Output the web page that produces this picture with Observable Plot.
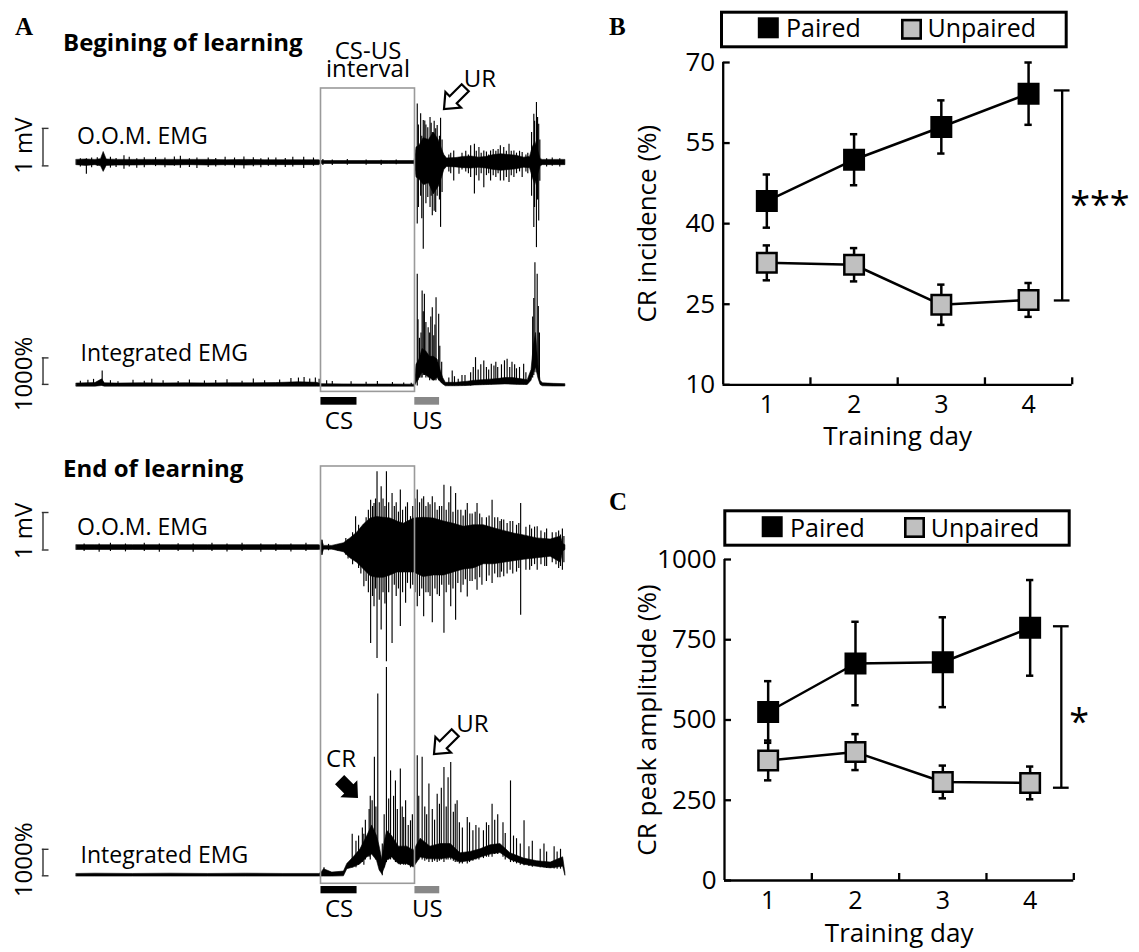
<!DOCTYPE html>
<html><head><meta charset="utf-8">
<script src="https://cdn.jsdelivr.net/npm/d3@7"></script>
<script src="https://cdn.jsdelivr.net/npm/@observablehq/plot@0.6"></script>
<style>
html,body{margin:0;padding:0;background:#fff;}
#root{position:relative;width:1139px;height:952px;overflow:hidden;font-family:"Open Sans",sans-serif;color:#000;}
#root .layer{position:absolute;}
#root svg{overflow:visible;max-width:none;}
g[aria-label="stars"] text{letter-spacing:3px;}
</style></head><body><div id="root"></div><script>
// ================= DATA =================
// Panels B & C
const days = [1, 2, 3, 4];
const groups = ["Paired", "Unpaired"];
const incidencePaired = [44.2, 51.9, 58.0, 64.2];
const incidencePairedSem = [4.95, 4.75, 4.95, 5.8];
const incidenceUnpaired = [32.7, 32.35, 24.9, 25.8];
const incidenceUnpairedSem = [3.25, 3.1, 3.75, 3.15];
const amplitudePaired = [525, 676, 680, 787];
const amplitudePairedSem = [96, 130, 140, 149];
const amplitudeUnpaired = [374, 400, 307, 304];
const amplitudeUnpairedSem = [62, 56, 51, 51];
const incidenceTicks = [10, 25, 40, 55, 70];
const amplitudeTicks = [0, 250, 500, 750, 1000];
const incidenceSig = [25.7, 64.8];
const amplitudeSig = [289, 792];
const sigLabels = ["***", "*"];

// Panel A : stimulus timing (ms from CS onset)
const stimNames = ["CS", "US"];
const stimStart = [0, 250];
const stimEnd = [96, 316];
const intervalMs = [0, 250];
const scaleMv = 1, scalePct = 1000;

// Traces: [time ms, low, high]. O.O.M. EMG in mV, integrated EMG in %.
// Beginning of learning - O.O.M. EMG
const beginOomBand = [[-650,-0.07,0.07],[-625,-0.09,0.08],[-600,-0.07,0.07],[-585,-0.10,0.09],[-578,-0.25,0.28],[-570,-0.09,0.08],[-540,-0.08,0.07],[-500,-0.08,0.07],[-450,-0.07,0.07],[-400,-0.08,0.07],[-350,-0.07,0.07],[-300,-0.08,0.07],[-250,-0.07,0.06],[-200,-0.08,0.07],[-150,-0.07,0.06],[-100,-0.07,0.06],[-50,-0.07,0.06],[-5,-0.07,0.06],[0,-0.04,0.04],[60,-0.04,0.04],[120,-0.04,0.04],[180,-0.04,0.04],[249,-0.04,0.04],[254,-0.4,0.4],[262,-0.45,0.45],[273,-0.6,0.65],[287,-0.55,0.6],[300,-0.85,0.8],[313,-0.65,0.6],[322,-0.4,0.35],[328,-0.2,0.2],[335,-0.12,0.11],[360,-0.13,0.12],[380,-0.15,0.15],[400,-0.16,0.16],[420,-0.14,0.13],[440,-0.16,0.15],[460,-0.2,0.2],[480,-0.22,0.22],[500,-0.2,0.2],[520,-0.18,0.18],[540,-0.14,0.13],[556,-0.15,0.15],[563,-0.4,0.4],[570,-0.6,0.55],[577,-0.35,0.35],[584,-0.1,0.09],[590,-0.07,0.07],[620,-0.07,0.07],[650,-0.07,0.07]];
const beginOomSpikes = [[-640,-0.12,0.10],[-624,-0.31,0.1],[-610,-0.14,0.12],[-595,-0.1,0.13],[-560,-0.15,0.14],[-545,-0.13,0.11],[-524,-0.18,0.18],[-510,-0.12,0.14],[-490,-0.15,0.1],[-470,-0.14,0.13],[-440,-0.11,0.13],[-415,-0.14,0.12],[-390,-0.1,0.15],[-374,-0.15,0.17],[-350,-0.13,0.1],[-330,-0.16,0.12],[-300,-0.13,0.12],[-280,-0.12,0.11],[-255,-0.1,0.14],[-230,-0.15,0.12],[-205,-0.17,0.15],[-180,-0.11,0.13],[-160,-0.14,0.1],[-140,-0.1,0.12],[-120,-0.12,0.12],[-95,-0.13,0.11],[-75,-0.12,0.14],[-46,-0.16,0.14],[-20,-0.1,0.12],[5,-0.08,0.08],[30,-0.08,0.07],[70,-0.07,0.08],[120,-0.07,0.07],[160,-0.08,0.06],[200,-0.06,0.07],
  [256,-1.64,1.56],[259,-1.2,1.0],[265,-0.9,1.3],[268,-1.5,0.7],[272,-2.31,1.12],[276,-0.6,1.11],[279,-1.1,1.0],[284,-0.93,0.93],[290,-1.2,1.2],[293,-0.9,1.05],[296,-1.42,0.8],[301,-1.3,1.1],[305,-1.33,0.9],[309,-0.9,0.99],[315,-1.0,0.7],[318,-1.73,1.18],[322,-0.8,0.6],
  [340,-0.25,0.2],[345,-0.3,0.25],[353,-0.49,0.31],[367,-0.31,0.13],[375,-0.2,0.25],[385,-0.25,0.3],[392,-0.3,0.2],[398,-0.40,0.45],[408,-0.84,0.49],[413,-0.35,0.3],[420,-0.49,0.40],[426,-0.3,0.25],[433,-0.67,0.31],[440,-0.35,0.28],[446,-0.3,0.2],[451,-0.49,0.31],[458,-0.35,0.35],[465,-0.4,0.3],[471,-0.3,0.35],[477,-0.49,0.45],[486,-0.49,0.40],[493,-0.4,0.3],[500,-0.53,0.49],[506,-0.35,0.3],[513,-0.40,0.31],[520,-0.3,0.25],[528,-0.25,0.3],[535,-0.40,0.27],[545,-0.25,0.2],[550,-0.3,0.25],[560,-0.9,0.8],[566,-1.73,1.29],[568,-1.2,1.1],[573,-2.27,1.6],[576,-1.0,1.2],[579,-1.56,1.02],[582,-0.5,0.6],[600,-0.12,0.1],[615,-0.1,0.12],[635,-0.12,0.1]];

// Beginning of learning - integrated EMG
const beginIntBand = [[-650,-25,90],[-600,-25,110],[-582,0,250],[-575,-25,100],[-540,-25,90],[-480,-25,100],[-420,-25,95],[-360,-25,100],[-300,-25,95],[-240,-25,100],[-180,-25,100],[-120,-25,110],[-60,-25,140],[-10,-25,120],[0,-25,70],[60,-25,60],[120,-25,55],[180,-25,55],[249,-25,50],[254,100,800],[262,300,1000],[270,500,1400],[280,400,1300],[290,300,1100],[300,200,1100],[310,300,1000],[318,150,600],[325,60,300],[332,-10,120],[360,-10,120],[390,0,160],[410,20,200],[430,30,220],[450,40,240],[470,50,260],[490,60,300],[510,50,300],[530,40,260],[550,40,220],[560,200,600],[566,500,1500],[572,700,2000],[578,300,800],[584,40,200],[590,-10,100],[620,-20,80],[650,-20,70]];
const beginIntSpikes = [[-640,0,180],[-620,0,220],[-605,0,250],[-582,0,566],[-560,0,200],[-540,0,160],[-500,0,220],[-470,0,180],[-450,0,250],[-420,0,200],[-380,0,170],[-350,0,230],[-310,0,190],[-280,0,210],[-250,0,240],[-210,0,180],[-180,0,260],[-150,0,200],[-110,0,230],[-80,0,280],[-60,0,300],[-45,0,320],[-30,0,260],[-15,0,300],[-5,0,250],[15,0,200],[30,0,170],[80,0,160],[120,0,140],[150,0,170],[190,0,130],[220,0,110],[240,0,100],
  [256,0,4214],[258,200,2500],[262,300,1800],[266,300,2000],[269,300,3585],[272,400,2800],[275,400,3460],[279,300,2400],[285,300,2200],[289,200,2000],[292,300,2600],[296,200,2956],[300,200,1900],[303,200,2300],[306,200,3333],[313,200,2704],[316,200,1500],[321,100,900],
  [340,0,300],[349,0,566],[355,0,350],[365,0,250],[375,0,400],[383,0,400],[398,0,500],[405,30,700],[411,30,1069],[418,40,600],[425,40,800],[433,40,943],[440,50,700],[446,50,600],[453,50,818],[460,60,750],[465,60,900],[470,60,700],[480,70,800],[488,70,950],[495,80,1006],[502,80,700],[508,60,900],[515,60,800],[520,50,650],[528,50,700],[539,50,818],[545,40,500],[563,300,2600],[566,400,3300],[569,500,4654],[575,500,4214],[578,500,3000],[581,200,2000]];

// End of learning - O.O.M. EMG
const endOomBand = [[-650,-0.06,0.07],[-600,-0.06,0.07],[-500,-0.06,0.07],[-400,-0.06,0.07],[-300,-0.06,0.07],[-200,-0.06,0.07],[-100,-0.06,0.07],[-5,-0.06,0.07],[0,-0.05,0.05],[3,-0.2,0.2],[8,-0.05,0.05],[30,-0.05,0.05],[61,-0.12,0.12],[78,-0.28,0.25],[96,-0.4,0.4],[114,-0.58,0.62],[132,-0.76,0.78],[149,-0.8,0.82],[167,-0.8,0.8],[185,-0.74,0.78],[203,-0.66,0.7],[220,-0.66,0.64],[247,-0.66,0.78],[273,-0.78,0.8],[300,-0.74,0.78],[327,-0.74,0.7],[353,-0.66,0.64],[380,-0.58,0.56],[406,-0.55,0.6],[433,-0.44,0.6],[460,-0.44,0.52],[486,-0.4,0.45],[513,-0.36,0.38],[540,-0.32,0.33],[575,-0.28,0.25],[611,-0.24,0.22],[638,-0.4,0.3],[644,-0.1,0.1],[650,-0.06,0.07]];
const endOomSpikes = [[-630,-0.1,0.1],[-590,-0.12,0.1],[-560,-0.1,0.12],[-520,-0.11,0.1],[-470,-0.1,0.12],[-430,-0.12,0.1],[-380,-0.1,0.11],[-340,-0.12,0.1],[-290,-0.1,0.12],[-250,-0.11,0.1],[-210,-0.1,0.12],[-160,-0.12,0.1],[-120,-0.1,0.11],[-80,-0.11,0.1],[-40,-0.1,0.12],[20,-0.08,0.09],[45,-0.09,0.08],
  [3,-0.2,0.2],[66,-0.2,0.25],[72,-0.3,0.22],[84,-0.45,0.4],[92,-0.33,0.83],[100,-0.55,0.6],[106,-0.7,0.5],[114,-1.04,0.52],[120,-0.9,0.8],[126,-1.2,1.0],[132,-2.55,1.27],[137,-1.3,1.1],[141,-1.57,1.18],[145,-1.1,1.3],[149,-2.95,2.03],[155,-1.4,1.2],[160,-2.19,1.63],[165,-1.2,1.3],[170,-1.5,1.1],[174,-3.04,2.03],[180,-1.2,1.2],[189,-2.55,1.45],[195,-1.0,1.1],[200,-1.3,1.2],[206,-1.1,0.95],[211,-2.1,1.54],[217,-1.2,1.0],[225,-1.48,1.09],[230,-0.95,1.2],[238,-1.1,0.83],[244,-1.0,1.1],[250,-1.2,1.3],[256,-1.57,1.54],[262,-1.3,1.2],[268,-1.1,1.3],[273,-1.84,1.36],[279,-1.2,1.1],[285,-1.2,1.2],[290,-1.3,1.15],[296,-2.0,1.36],[303,-1.1,1.2],[309,-1.25,1.0],[315,-1.3,1.1],[321,-1.0,1.1],[327,-2.28,1.67],[333,-1.2,1.0],[340,-1.0,1.2],[345,-1.57,1.63],[351,-1.1,0.95],[358,-1.93,1.45],[364,-0.95,1.0],[372,-1.2,1.0],[378,-1.0,0.85],[384,-0.85,1.0],[389,-1.31,1.18],[396,-0.9,0.9],[402,-0.9,0.9],[410,-0.85,0.95],[415,-1.13,1.18],[422,-0.8,0.9],[428,-1.0,0.8],[440,-0.9,0.8],[447,-0.75,0.85],[455,-0.95,1.27],[462,-0.7,0.8],[470,-0.8,0.8],[476,-0.8,0.7],[480,-0.65,0.75],[486,-0.77,0.74],[495,-0.7,0.65],[503,-0.6,0.7],[510,-0.7,0.7],[520,-0.65,0.6],[526,-0.55,0.65],[531,-1.8,1.18],[545,-0.6,0.55],[555,-0.6,0.6],[560,-0.5,0.5],[568,-0.45,0.55],[575,-0.6,0.56],[585,-0.45,0.45],[595,-0.5,0.4],[600,-0.5,0.5],[615,-0.4,0.4],[625,-0.45,0.4],[632,-0.55,0.45],[637,-0.5,0.34],[642,-0.6,0.5],[646,-0.4,0.3]];

// End of learning - integrated EMG
const endIntBand = [[-650,-30,70],[-600,-30,80],[-500,-30,70],[-400,-30,80],[-300,-30,70],[-200,-30,80],[-100,-30,70],[-5,-30,70],[0,-30,100],[8,-30,250],[30,-30,120],[61,-20,160],[70,250,450],[87,310,700],[105,440,1000],[123,690,1500],[136,800,1900],[149,570,1500],[156,200,1100],[163,60,600],[170,300,1300],[176,570,1700],[189,690,1500],[207,440,1100],[229,440,1100],[247,310,950],[265,690,1400],[291,620,1100],[318,620,1200],[345,680,1200],[371,500,850],[398,560,900],[424,680,1000],[451,800,1150],[477,860,1200],[504,600,850],[540,420,650],[575,340,550],[611,280,500],[644,340,700],[650,0,100]];
const endIntSpikes = [[8,0,300],[83,300,1570],[93,300,1300],[100,400,1500],[110,500,1800],[114,400,1570],[118,600,2100],[128,700,2500],[131,600,3000],[136,900,2830],[142,900,4470],[146,600,2600],[151,500,6860],[163,0,1200],[168,300,2300],[174,500,7860],[180,600,2900],[185,600,3960],[193,600,3000],[198,500,3580],[203,500,2500],[211,400,4030],[216,450,2600],[220,400,2200],[225,400,2830],[232,400,1900],[238,300,2075],[243,350,2300],[256,600,4530],[260,600,3000],[269,600,4470],[276,550,2600],[281,600,2300],[287,500,3460],[296,500,2500],[302,550,2100],[309,500,3080],[315,550,2700],[320,600,3300],[327,500,4090],[333,600,2600],[338,600,3700],[345,600,4280],[352,550,2400],[357,500,2700],[362,500,2830],[368,450,2000],[376,450,1800],[389,450,2200],[395,500,2000],[404,550,1700],[412,600,1900],[420,600,1800],[432,650,1700],[440,700,2000],[446,700,1900],[455,700,2700],[462,800,2100],[470,800,2300],[484,700,2000],[490,600,1600],[504,500,3580],[512,500,1500],[520,450,1400],[530,400,1200],[540,380,2075],[553,350,1100],[562,320,1300],[583,300,1000],[593,300,1200],[600,280,900],[620,260,1100],[628,250,900],[637,250,1000]];

// ================= LAYOUT =================
const root = document.getElementById("root");
const FONT = "'Open Sans', sans-serif";
function place(node, left, top, width) {
  const div = document.createElement("div");
  div.className = "layer";
  div.style.left = left + "px"; div.style.top = top + "px";
  if (width) div.style.width = width + "px";
  div.appendChild(node); root.appendChild(div);
}
const X0 = 320.5, PXMS = 0.376;           // pixel of CS onset, px per ms
const px2t = px => (px - X0) / PXMS;
const A_W = 580, A_RIGHT = 564.9;
const xDomainA = [px2t(0), px2t(A_RIGHT)];
const baseStyle = {overflow: "visible", maxWidth: "none", background: "transparent", fontFamily: FONT, color: "#000"};
const toRows = arr => arr.map(([t, lo, hi]) => ({t, lo, hi}));

function tracePlot(o) {
  const height = (o.domain[1] - o.domain[0]) * o.ppu;
  const top = o.baseline - o.domain[1] * o.ppu;
  const svg = Plot.plot({
    width: A_W, height, marginLeft: 0, marginRight: A_W - A_RIGHT, marginTop: 0, marginBottom: 0,
    x: {domain: xDomainA, axis: null}, y: {domain: o.domain, axis: null},
    style: {...baseStyle, fontSize: "23px"},
    marks: [
      Plot.areaY(toRows(o.band), {x: "t", y1: "lo", y2: "hi", fill: "#000", stroke: "#000", strokeWidth: 0.6}),
      Plot.ruleX(toRows(o.spikes), {x: "t", y1: "lo", y2: "hi", stroke: "#000", strokeWidth: 1.15}),
      Plot.ruleX([o.bar], {x: () => px2t(42.5), y1: d => d[0], y2: d => d[1], stroke: "#333", strokeWidth: 1.4}),
      Plot.ruleY(o.bar, {y: d => d, x1: () => px2t(41.8), x2: () => px2t(48.5), stroke: "#333", strokeWidth: 1.4}),
      Plot.text([o.label], {x: () => px2t(o.labelX), y: () => 0, dy: o.labelDy, text: d => d, textAnchor: "start", lineAnchor: "bottom", fontSize: 23}),
      Plot.text([o.scaleLabel], {x: () => px2t(24), y: () => 0, dy: o.scaleDy, text: d => d, rotate: -90, textAnchor: "middle", fontSize: 24})
    ]
  });
  place(svg, 0, top, A_W);
}

tracePlot({band: beginOomBand, spikes: beginOomSpikes, baseline: 161.7, ppu: 37.5, domain: [-2.5, 2.0], bar: [-0.09, -0.09 + scaleMv],
  label: "O.O.M. EMG", labelX: 76.5, labelDy: -18.7, scaleLabel: "1 mV", scaleDy: -16.7});
tracePlot({band: beginIntBand, spikes: beginIntSpikes, baseline: 385, ppu: 0.0265, domain: [-800, 5000], bar: [60, 60 + scalePct],
  label: "Integrated EMG", labelX: 80, labelDy: -25, scaleLabel: "1000%", scaleDy: -12});
tracePlot({band: endOomBand, spikes: endOomSpikes, baseline: 547.7, ppu: 37.5, domain: [-3.3, 2.3], bar: [-0.06, -0.06 + scaleMv],
  label: "O.O.M. EMG", labelX: 76.5, labelDy: -12.7, scaleLabel: "1 mV", scaleDy: -16.7});
tracePlot({band: endIntBand, spikes: endIntSpikes, baseline: 875, ppu: 0.0265, domain: [-800, 8200], bar: [0, scalePct],
  label: "Integrated EMG", labelX: 80, labelDy: -13.3, scaleLabel: "1000%", scaleDy: -16});

// CS-US interval boxes
function boxPlot(top, bottom, withTitle) {
  const mid = (intervalMs[0] + intervalMs[1]) / 2;
  const marks = [Plot.rect([intervalMs], {x1: d => d[0], x2: d => d[1], fill: "none", stroke: "#9a9a9a", strokeWidth: 1.6})];
  if (withTitle) {
    marks.push(Plot.text(["CS-US\ninterval"], {x: () => mid, frameAnchor: "top", dy: -11.5, lineAnchor: "bottom", lineHeight: 0.76, text: d => d, fontSize: 24}));
  }
  const svg = Plot.plot({width: A_W, height: bottom - top, marginLeft: 0, marginRight: A_W - A_RIGHT, marginTop: 0, marginBottom: 0,
    x: {domain: xDomainA, axis: null}, style: {...baseStyle, fontSize: "24px"}, marks});
  place(svg, 0, top, A_W);
}
boxPlot(88.3, 391.7, true);
boxPlot(466, 883.3, false);

// stimulus bars
const stim = stimNames.map((name, i) => ({name, start: stimStart[i], end: stimEnd[i]}));
function stimPlot(top, h) {
  const svg = Plot.plot({width: A_W, height: h, marginLeft: 0, marginRight: A_W - A_RIGHT, marginTop: 0, marginBottom: 0,
    x: {domain: xDomainA, axis: null}, style: {...baseStyle, fontSize: "24px"},
    marks: [
      Plot.rect(stim, {x1: "start", x2: "end", fill: d => d.name === "CS" ? "#000" : "#888"}),
      Plot.text(stim, {x: d => (d.start + d.end) / 2, text: "name", frameAnchor: "bottom", lineAnchor: "top", dy: 6.5, fontSize: 24})
    ]});
  place(svg, 0, top, A_W);
}
stimPlot(397.3, 7.7);
stimPlot(886, 7.3);

// ================= PANELS B & C =================
const dayBounds = days.map(d => d + 0.5);
function statPlot(o) {
  const rows = [];
  days.forEach((d, i) => {
    rows.push({day: d, group: groups[0], v: o.paired[i], e: o.pairedSem[i]});
    rows.push({day: d, group: groups[1], v: o.unpaired[i], e: o.unpairedSem[i]});
  });
  const cap = 0.042, sx = o.sigX, sc = 0.09;
  const sigMid = (o.sig[0] + o.sig[1]) / 2;
  const frameW = 559 - o.ml - o.mr;
  const yLabelX = 0.5 - o.yLabelOffset * 4 / frameW;
  const yMid = (o.domain[0] + o.domain[1]) / 2;
  const svg = Plot.plot({
    width: 559, height: o.height, marginLeft: o.ml, marginRight: o.mr, marginTop: o.mt, marginBottom: o.mb,
    x: {domain: [0.5, 4.5], label: null}, y: {domain: o.domain, label: null},
    style: {...baseStyle, fontSize: "26px"},
    marks: [
      Plot.axisX(dayBounds, {tickSize: -7, tickFormat: () => "", strokeWidth: 2.3, label: null}),
      Plot.axisX(days, {tickSize: 0, tickPadding: o.xPad, fontSize: 25, label: null}),
      Plot.axisY(o.ticks, {tickSize: -7, tickFormat: () => "", strokeWidth: 2.3, label: null}),
      Plot.axisY(o.ticks, {tickSize: 0, tickPadding: 8, fontSize: 26, tickFormat: d => String(d), label: null}),
      Plot.ruleY([o.domain[0]], {strokeWidth: 2.3}),
      Plot.ruleX([0.5], {strokeWidth: 2.3}),
      Plot.text([o.yLabel], {x: () => yLabelX, y: () => yMid, rotate: -90, textAnchor: "middle", lineAnchor: "middle", text: d => d, fontSize: 26}),
      Plot.text(["Training day"], {x: () => 2.5, frameAnchor: "bottom", dy: o.xLabelDy, text: d => d, textAnchor: "middle", fontSize: 26}),
      // significance bracket
      Plot.ruleX([o.sig], {x: () => sx, y1: d => d[0], y2: d => d[1], strokeWidth: 2.3}),
      Plot.ruleY(o.sig, {y: d => d, x1: () => sx - sc, x2: () => sx + sc, strokeWidth: 2.3}),
      Plot.text([o.sigLabel], {x: () => sx, y: () => sigMid, text: d => d, textAnchor: "start", lineAnchor: "bottom", dx: 8, dy: o.starDy, fontSize: 36, ariaLabel: "stars"}),
      // error bars
      Plot.ruleX(rows, {x: "day", y1: d => d.v - d.e, y2: d => d.v + d.e, strokeWidth: 2.5}),
      Plot.ruleY(rows, {y: d => d.v + d.e, x1: d => d.day - cap, x2: d => d.day + cap, strokeWidth: 2.5}),
      Plot.ruleY(rows, {y: d => d.v - d.e, x1: d => d.day - cap, x2: d => d.day + cap, strokeWidth: 2.5}),
      Plot.line(rows, {x: "day", y: "v", z: "group", stroke: "#000", strokeWidth: 2.5}),
      Plot.dot(rows.filter(d => d.group === groups[0]), {x: "day", y: "v", symbol: "square", r: 11, fill: "#000", stroke: "#000", strokeWidth: 2.5}),
      Plot.dot(rows.filter(d => d.group === groups[1]), {x: "day", y: "v", symbol: "square", r: 11, fill: "#c0c0c0", stroke: "#000", strokeWidth: 2.5})
    ]
  });
  place(svg, 580, o.top, 559);
}
statPlot({paired: incidencePaired, pairedSem: incidencePairedSem, unpaired: incidenceUnpaired, unpairedSem: incidenceUnpairedSem,
  ticks: incidenceTicks, domain: [10, 70], sig: incidenceSig, sigLabel: sigLabels[0], yLabel: "CR incidence (%)",
  top: 0, height: 470, ml: 142.7, mr: 67.3, mt: 62, mb: 85.7, xPad: 10.5, xLabelDy: 60.5, sigX: 4.385, starDy: 21.5, yLabelOffset: 76});
statPlot({paired: amplitudePaired, pairedSem: amplitudePairedSem, unpaired: amplitudeUnpaired, unpairedSem: amplitudeUnpairedSem,
  ticks: amplitudeTicks, domain: [0, 1000], sig: amplitudeSig, sigLabel: sigLabels[1], yLabel: "CR peak amplitude (%)",
  top: 480, height: 472, ml: 144, mr: 65.7, mt: 79, mb: 72, xPad: 11, xLabelDy: 61.5, sigX: 4.357, starDy: 27.5, yLabelOffset: 77});

// ================= ANNOTATIONS (titles, legends, arrows) =================
const ann = d3.create("svg").attr("width", 1139).attr("height", 952).style("overflow", "visible");
function txt(x, y, s, size, opts = {}) {
  const t = ann.append("text").attr("x", x).attr("y", y).text(s).attr("font-size", size)
    .attr("font-family", opts.family || FONT).attr("fill", "#000");
  if (opts.bold) t.attr("font-weight", 700);
  if (opts.anchor) t.attr("text-anchor", opts.anchor);
  return t;
}
const SERIF = "'Liberation Serif', 'Times New Roman', serif";
txt(15, 35, "A", 25, {family: SERIF, bold: true});
txt(609, 35, "B", 25, {family: SERIF, bold: true});
txt(609, 510, "C", 25, {family: SERIF, bold: true});
txt(63, 51, "Begining of learning", 24, {bold: true});
txt(63, 476.7, "End of learning", 24, {bold: true});
txt(480, 87, "UR", 24, {anchor: "middle"});
txt(472.5, 731.7, "UR", 24, {anchor: "middle"});
txt(341, 766.7, "CR", 24, {anchor: "middle"});

function legend(x, y, w, h, sq1, sq2, t1x, t2x, base) {
  ann.append("rect").attr("x", x).attr("y", y).attr("width", w).attr("height", h).attr("fill", "#fff").attr("stroke", "#000").attr("stroke-width", 3);
  ann.append("rect").attr("x", sq1[0]).attr("y", sq1[1]).attr("width", 21).attr("height", 21).attr("fill", "#000");
  ann.append("rect").attr("x", sq2[0] + 1.3).attr("y", sq2[1] + 1.3).attr("width", 18.4).attr("height", 18.4).attr("fill", "#c0c0c0").attr("stroke", "#000").attr("stroke-width", 2.6);
  txt(t1x, base, groups[0], 25);
  txt(t2x, base, groups[1], 25);
}
legend(721.5, 12.2, 344.7, 34.6, [757.8, 17.3], [901, 18.8], 786, 927.5, 37.3);
legend(724.8, 510.8, 344.4, 34.4, [761.7, 516.2], [904, 517], 790, 930.7, 536.5);

const hollowLeft = "M0,0 L13,-11 L13,-5 L30,-5 L30,5 L13,5 L13,11 Z";
ann.append("path").attr("d", hollowLeft).attr("transform", "translate(444,109) rotate(-45)").attr("fill", "#fff").attr("stroke", "#000").attr("stroke-width", 2.2);
ann.append("path").attr("d", hollowLeft).attr("transform", "translate(434,754) rotate(-45)").attr("fill", "#fff").attr("stroke", "#000").attr("stroke-width", 2.2);
const solidRight = "M0,0 L-13,-12 L-13,-6.5 L-26,-6.5 L-26,6.5 L-13,6.5 L-13,12 Z";
ann.append("path").attr("d", solidRight).attr("transform", "translate(358,798) rotate(45)").attr("fill", "#000");

place(ann.node(), 0, 0, 1139);
</script></body></html>
